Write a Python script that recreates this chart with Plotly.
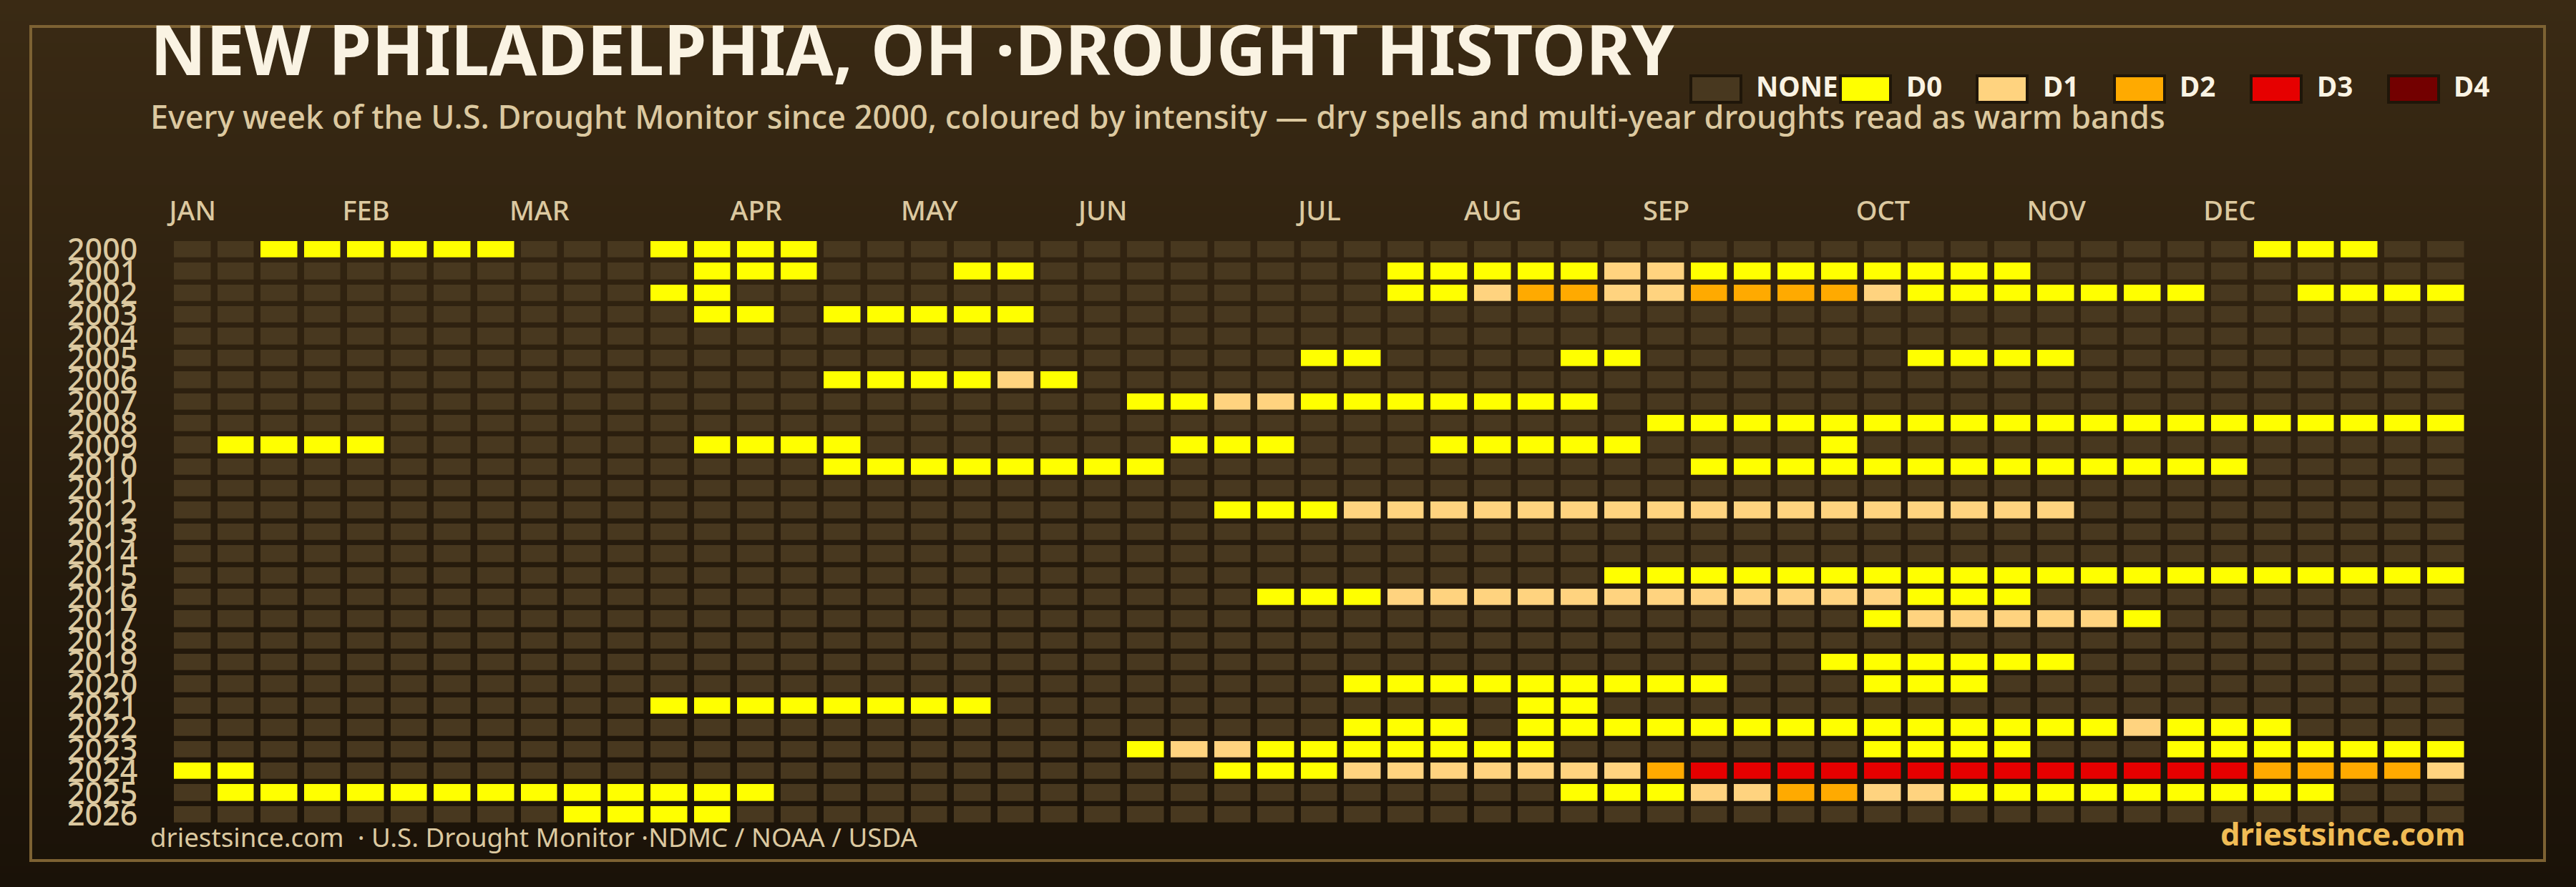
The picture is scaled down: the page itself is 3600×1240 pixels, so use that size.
import plotly.graph_objects as go

W, H = 3600, 1240

years = list(range(2000, 2027))
month_labels = ["JAN", "FEB", "MAR", "APR", "MAY", "JUN", "JUL", "AUG", "SEP", "OCT", "NOV", "DEC"]
month_weeks = [0, 4, 8, 13, 17, 21, 26, 30, 34, 39, 43, 47]
legend_labels = ["NONE", "D0", "D1", "D2", "D3", "D4"]
level_colors = ["#48381f", "#ffff00", "#ffd37f", "#ffaa00", "#e60000", "#730000"]

# One row per year, blocks of ten weeks: 0 none, 1 D0, 2 D1, 3 D2, 4 D3, 5 D4
w2000 = "0011111100 0111100000 0000000000 0000000000 0000000011 100"
w2001 = "0000000000 0011100011 0000000011 1112211111 1110000000 000"
w2002 = "0000000000 0110000000 0000000011 2332233332 1111111001 111"
w2003 = "0000000000 0011011111 0000000000 0000000000 0000000000 000"
w2004 = "0000000000 0000000000 0000000000 0000000000 0000000000 000"
w2005 = "0000000000 0000000000 0000001100 0011000000 1111000000 000"
w2006 = "0000000000 0000011112 1000000000 0000000000 0000000000 000"
w2007 = "0000000000 0000000000 0011221111 1110000000 0000000000 000"
w2008 = "0000000000 0000000000 0000000000 0000111111 1111111111 111"
w2009 = "0111100000 0011110000 0001110001 1111000010 0000000000 000"
w2010 = "0000000000 0000011111 1110000000 0000011111 1111111100 000"
w2011 = "0000000000 0000000000 0000000000 0000000000 0000000000 000"
w2012 = "0000000000 0000000000 0000111222 2222222222 2222000000 000"
w2013 = "0000000000 0000000000 0000000000 0000000000 0000000000 000"
w2014 = "0000000000 0000000000 0000000000 0000000000 0000000000 000"
w2015 = "0000000000 0000000000 0000000000 0001111111 1111111111 111"
w2016 = "0000000000 0000000000 0000011122 2222222222 1110000000 000"
w2017 = "0000000000 0000000000 0000000000 0000000001 2222210000 000"
w2018 = "0000000000 0000000000 0000000000 0000000000 0000000000 000"
w2019 = "0000000000 0000000000 0000000000 0000000011 1111000000 000"
w2020 = "0000000000 0000000000 0000000111 1111110001 1100000000 000"
w2021 = "0000000000 0111111110 0000000000 0110000000 0000000000 000"
w2022 = "0000000000 0000000000 0000000111 0111111111 1111121110 000"
w2023 = "0000000000 0000000000 0012211111 1100000001 1110001111 111"
w2024 = "1100000000 0000000000 0000111222 2222344444 4444444433 332"
w2025 = "0111111111 1111000000 0000000000 0011122332 2111111111 000"
w2026 = "0000000001 1110000000 0000000000 0000000000 0000000000 000"

week_rows = [w2000, w2001, w2002, w2003, w2004, w2005, w2006, w2007, w2008,
             w2009, w2010, w2011, w2012, w2013, w2014, w2015, w2016, w2017,
             w2018, w2019, w2020, w2021, w2022, w2023, w2024, w2025, w2026]
z = [[int(c) for c in r.replace(" ", "")] for r in week_rows]

bg_stops = [[0, "#3a2a14"], [1, "#1a1208"]]
bg_rows = list(range(125))
bg_z = [[r] for r in bg_rows]

colorscale = []
n = len(level_colors)
for i, c in enumerate(level_colors):
    colorscale += [[i / n, c], [(i + 1) / n, c]]

TEXT = "#dcc9a0"
LIGHT = "#faf3e3"
FONT = "Noto Sans"

fig = go.Figure()
fig.add_trace(go.Heatmap(z=bg_z, x=[0], y=bg_rows, xaxis="x", yaxis="y", colorscale=bg_stops,
                         showscale=False, hoverinfo="skip"))
fig.add_trace(go.Heatmap(z=z, x=list(range(53)), y=years, xaxis="x2", yaxis="y2",
                         colorscale=colorscale, zmin=0, zmax=6, xgap=9.5, ygap=7.3,
                         showscale=False))

def px(x): return x / W
def py(y): return 1 - y / H

shapes = [dict(type="rect", xref="paper", yref="paper", x0=px(43), x1=px(3556), y0=py(37), y1=py(1203),
               line=dict(color="#7d6233", width=4), fillcolor="rgba(0,0,0,0)", layer="above")]
annotations = []
def text(s, x, y, size, color, anchor="left", weight="normal", va="bottom"):
    annotations.append(dict(text=s, xref="paper", yref="paper", x=px(x), y=py(y), showarrow=False,
                            xanchor=anchor, yanchor=va, align=anchor,
                            font=dict(family=FONT, size=size, color=color, weight=weight)))

text("NEW PHILADELPHIA, OH ·DROUGHT HISTORY", 208, 135, 96, LIGHT, weight="bold")
text("Every week of the U.S. Drought Monitor since 2000, coloured by intensity — dry spells and multi-year droughts read as warm bands",
     208, 195, 45, TEXT, weight=500)
text("driestsince.com  · U.S. Drought Monitor ·NDMC / NOAA / USDA", 208, 1197, 36.7, TEXT)
text("driestsince.com", 3447, 1197, 43.5, "#f0bc55", anchor="right", weight="bold")

swatch_x = [2361, 2570, 2761, 2953, 3144, 3336]
label_x = [2452, 2662, 2853, 3044, 3236, 3427]
for i, lab in enumerate(legend_labels):
    shapes.append(dict(type="rect", xref="paper", yref="paper", x0=px(swatch_x[i] + 2), x1=px(swatch_x[i] + 72),
                       y0=py(106), y1=py(143), fillcolor=level_colors[i],
                       line=dict(color="#1f1609", width=4)))
    text(lab, label_x[i], 148, 38.5, LIGHT, weight="bold")

fig.update_layout(
    template="none",
    width=W, height=H, autosize=False,
    margin=dict(l=0, r=0, t=0, b=0),
    paper_bgcolor="#2a1e0e", plot_bgcolor="rgba(0,0,0,0)",
    shapes=shapes, annotations=annotations,
    font=dict(family=FONT),
    xaxis=dict(domain=[0, 1], range=[-0.5, 0.5], visible=False, fixedrange=True, automargin=False),
    yaxis=dict(domain=[0, 1], range=[124.5, -0.5], visible=False, fixedrange=True, automargin=False),
    xaxis2=dict(domain=[239 / W, 3449 / W], range=[-0.5, 52.5], anchor="y2", side="top",
                tickmode="array", tickvals=month_weeks, ticktext=month_labels,
                tickfont=dict(size=38, color=TEXT, family=FONT, weight=500),
                ticks="outside", ticklen=10, tickcolor="rgba(0,0,0,0)", showgrid=False, zeroline=False,
                showline=False, tickangle=0, fixedrange=True, automargin=False),
    yaxis2=dict(domain=[1 - 1154 / H, 1 - 334 / H], range=[2026.5, 1999.5], anchor="x2",
                tickmode="array", tickvals=years, ticktext=[str(y) for y in years],
                tickfont=dict(size=43, color=TEXT, family=FONT, weight=500),
                ticks="outside", ticklen=37, tickcolor="rgba(0,0,0,0)", showgrid=False, zeroline=False,
                showline=False, fixedrange=True, automargin=False),
)
fig.write_html("out.html", config={"displayModeBar": False},
               post_script="document.body.style.margin='0';document.body.style.background='#2a1e0e';")
